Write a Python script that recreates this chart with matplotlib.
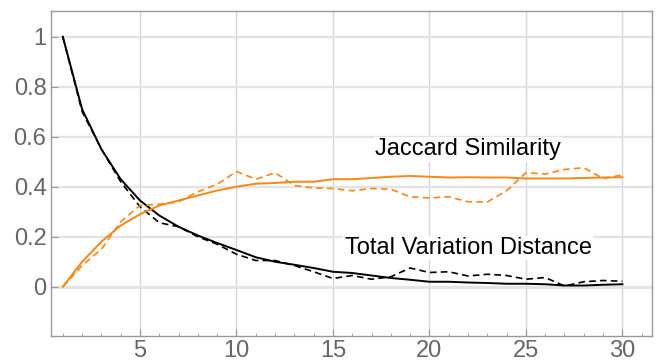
import matplotlib
matplotlib.use("Agg")
import matplotlib.pyplot as plt
import numpy as np

plt.rcParams['font.family'] = ['Liberation Sans', 'DejaVu Sans']

# steps 1..30
steps = list(range(1, 31))

# total variation distance: solid = model, dashed = measured
tvd_model = [1.0, 0.71, 0.55, 0.43, 0.345, 0.285, 0.24, 0.205, 0.175, 0.147,
             0.118, 0.10, 0.088, 0.075, 0.06, 0.055, 0.045, 0.035, 0.028, 0.02,
             0.02, 0.017, 0.015, 0.012, 0.012, 0.01, 0.005, 0.005, 0.008, 0.01]
tvd_meas = [1.0, 0.70, 0.55, 0.42, 0.32, 0.256, 0.24, 0.20, 0.17, 0.13,
            0.105, 0.105, 0.085, 0.06, 0.033, 0.045, 0.03, 0.04, 0.075, 0.057,
            0.06, 0.043, 0.05, 0.045, 0.03, 0.037, 0.003, 0.02, 0.025, 0.022]

# jaccard similarity: solid = model, dashed = measured
jac_model = [0.0, 0.10, 0.18, 0.245, 0.29, 0.325, 0.345, 0.365, 0.385, 0.40,
             0.412, 0.415, 0.42, 0.42, 0.43, 0.43, 0.435, 0.44, 0.443, 0.44,
             0.437, 0.438, 0.437, 0.437, 0.433, 0.433, 0.433, 0.435, 0.437, 0.438]
jac_meas = [0.0, 0.085, 0.15, 0.26, 0.325, 0.33, 0.34, 0.38, 0.41, 0.461,
            0.43, 0.456, 0.405, 0.395, 0.393, 0.384, 0.393, 0.39, 0.36, 0.355,
            0.36, 0.34, 0.339, 0.384, 0.456, 0.451, 0.469, 0.476, 0.433, 0.447]

orange = '#f98714'
gray = '#999999'

fig = plt.figure(figsize=(6.58, 3.62), dpi=100)
ax = fig.add_axes([0.077, 0.0718, 0.914, 0.8986])

# grid + zero axis
ax.set_xticks([5, 10, 15, 20, 25, 30])
ax.set_xticks(range(1, 32), minor=True)
ax.set_yticks([0, 0.2, 0.4, 0.6, 0.8, 1.0])
ax.set_yticklabels(['0', '0.2', '0.4', '0.6', '0.8', '1'])
ax.grid(axis='x', which='major', color='#d6d6d6', lw=1.0)
ax.grid(axis='y', which='major', color='#e3e3e3', lw=1.6)
ax.axhline(0, color='#888888', lw=1.0, zorder=1)

ax.plot(steps, tvd_model, color='black', lw=1.4)
ax.plot(steps, tvd_meas, color='black', lw=1.2, ls=(0, (4, 2.5)))
ax.plot(steps, jac_model, color=orange, lw=1.4)
ax.plot(steps, jac_meas, color=orange, lw=1.2, ls=(0, (4, 2.5)))

box = dict(facecolor='white', edgecolor='none', pad=1)
ax.text(22.0, 0.55, 'Jaccard Similarity', fontsize=17, ha='center', va='center', bbox=box)
ax.text(22.0, 0.155, 'Total Variation Distance', fontsize=17, ha='center', va='center', bbox=box)

ax.set_xlim(0.37, 31.54)
ax.set_ylim(-0.197, 1.104)

for s in ax.spines.values():
    s.set_color(gray)
    s.set_linewidth(1.0)
ax.tick_params(axis='both', which='both', direction='in', colors=gray, labelcolor='#666666', labelsize=17)
ax.tick_params(axis='x', which='major', length=5, pad=3)
ax.tick_params(axis='x', which='minor', length=2.5)
ax.tick_params(axis='y', which='major', length=5, pad=3)

fig.savefig('out.png', dpi=100)
